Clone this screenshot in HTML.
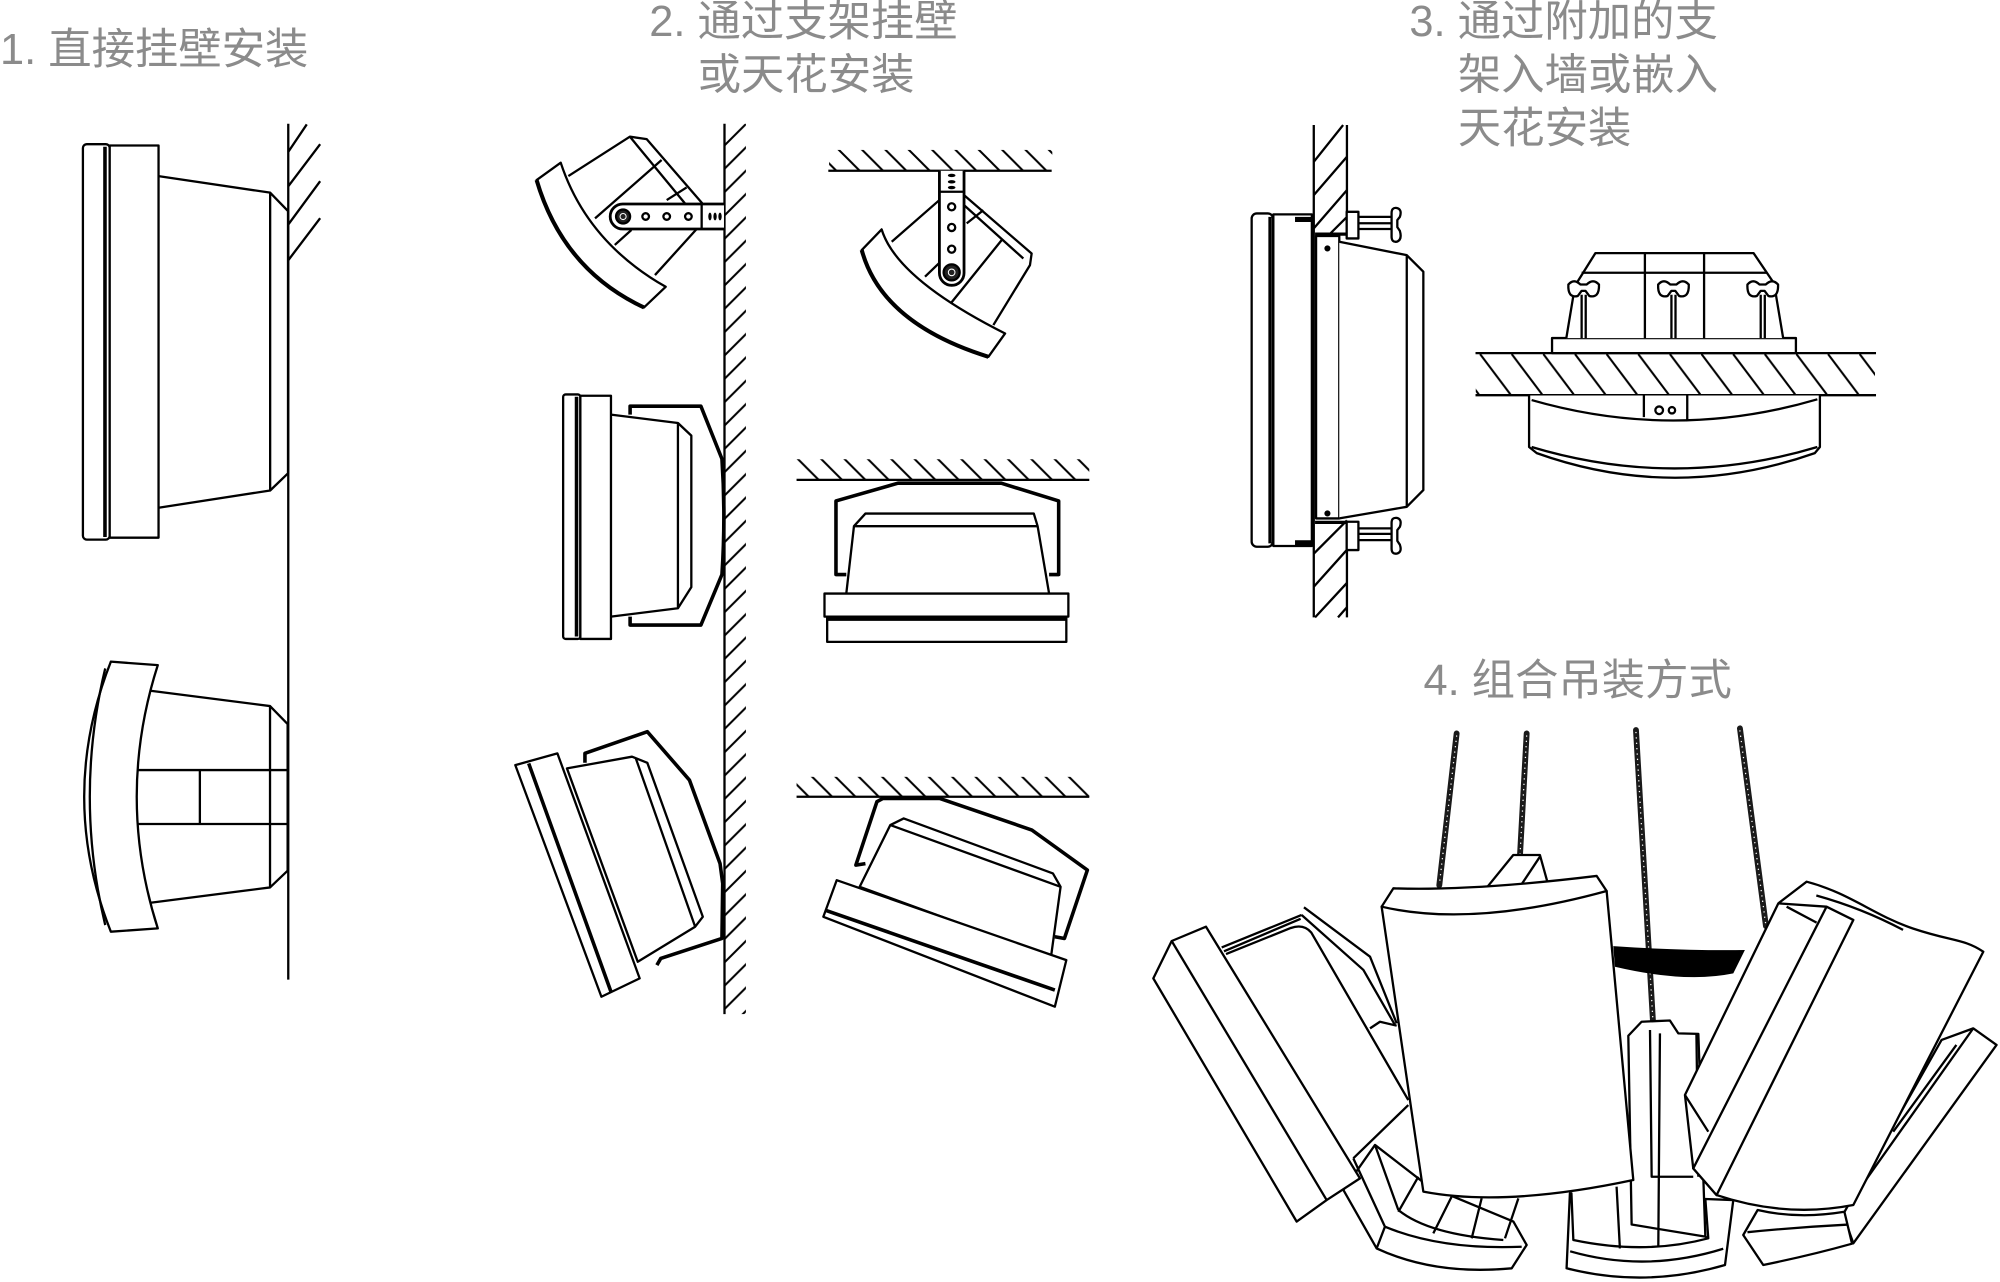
<!DOCTYPE html>
<html><head><meta charset="utf-8">
<style>
html,body{margin:0;padding:0;background:#fff;}
svg{display:block;}
text{font-family:"Liberation Sans","Noto Sans CJK SC",sans-serif;fill:#8b8b8b;font-size:34px;}
</style></head><body>
<svg width="2000" height="1282" viewBox="0 0 1568 1005" xmlns="http://www.w3.org/2000/svg">
<defs>
<pattern id="hw" patternUnits="userSpaceOnUse" x="568" y="114" width="18.3" height="18.3">
<path d="M-2,2 L2,-2 M0,18.3 L18.3,0 M16.3,20.3 L20.3,16.3" stroke="#000" stroke-width="1.6"/>
</pattern>
<pattern id="hc" patternUnits="userSpaceOnUse" x="650" y="0" width="18.3" height="18.3">
<path d="M-2,16.3 L2,20.3 M0,0 L18.3,18.3 M16.3,-2 L20.3,2" stroke="#000" stroke-width="1.6"/>
</pattern>
<pattern id="hs" patternUnits="userSpaceOnUse" x="1160" y="277" width="24.8" height="33">
<path d="M-1,-1.33 L25.8,34.33" stroke="#000" stroke-width="1.6"/>
</pattern>
</defs>

<!-- TEXT -->
<text x="0" y="50">1. 直接挂壁安装</text>
<text x="509" y="28">2. 通过支架挂壁</text>
<text x="547" y="70">或天花安装</text>
<text x="1105" y="28">3. 通过附加的支</text>
<text x="1143" y="70">架入墙或嵌入</text>
<text x="1143" y="112">天花安装</text>
<text x="1116" y="545">4. 组合吊装方式</text>

<g stroke="#000" fill="none" stroke-width="1.8" stroke-linejoin="round">

<!-- ===== SECTION 1 ===== -->
<line x1="226" y1="97" x2="226" y2="768"/>
<path d="M226,119 L240.5,97.5 M226,146 L251,113 M226,176 L251,142 M226,204 L251,171"/>
<!-- speaker 1a -->
<rect x="65" y="113" width="21" height="310" rx="3" fill="#fff"/>
<line x1="82.3" y1="115" x2="82.3" y2="421" stroke-width="2.8"/>
<rect x="86" y="114" width="38.3" height="307.5" fill="#fff"/>
<path d="M124.3,138 L211.8,151 L225.8,165.4 L225.8,371 L211.8,384.5 L124.3,398 M211.8,151 L211.8,384.5"/>
<!-- speaker 1b -->
<path d="M86.9,518.7 L123.7,521.4 Q90.7,624.6 123.7,727.8 L86.9,730.4 Q45.1,624.6 86.9,518.7 Z" fill="#fff"/>
<path d="M82.5,524 Q58.3,624.6 82.5,725.2"/>
<path d="M118,541.5 L211.7,553.5 L225.5,567.6 L225.5,682.6 L211.7,695.7 L118,707.7 M211.7,553.5 L211.7,695.7 M107.5,603.7 L225.5,603.7 M107.5,646 L225.5,646 M156.7,603.7 L156.7,646"/>

<!-- ===== SECTION 2 ===== -->
<line x1="568" y1="97" x2="568" y2="795"/>
<rect x="568.8" y="97" width="16" height="698" fill="url(#hw)" stroke="none"/>

<!-- speaker 2a -->
<path d="M445.6,138 L493.8,107.1 L507,109 L550.6,159.4 L546.2,179.5 L513.5,215.6 L470,200 Z" fill="#fff" stroke="none"/>
<path d="M445.6,138 L493.8,107.1 L507,109 L550.6,159.4 M493.8,107.1 L537,159.4 M466.5,171.2 L518.7,125.4 M482,192 L495,180.3 M522.7,156.8 L538.3,146.9 M546.2,179.5 L513.5,215.6"/>
<path d="M567.6,159.9 L488.2,159.9 A9.8,9.8 0 0 0 488.2,179.5 L567.6,179.5" fill="#fff" stroke-width="2.2"/>
<circle cx="488.5" cy="169.7" r="5.5" fill="#222"/>
<circle cx="488.5" cy="169.7" r="2.4" stroke="#fff" stroke-width="0.8"/>
<circle cx="506.2" cy="169.7" r="2.6"/>
<circle cx="522.7" cy="169.7" r="2.6"/>
<circle cx="539.7" cy="169.7" r="2.6"/>
<line x1="550.1" y1="160.5" x2="550.1" y2="179"/>
<ellipse cx="556.6" cy="169.7" rx="1.3" ry="3" fill="#000" stroke="none"/>
<ellipse cx="560.6" cy="169.7" rx="1.3" ry="3" fill="#000" stroke="none"/>
<ellipse cx="564.5" cy="169.7" rx="1.3" ry="3" fill="#000" stroke="none"/>
<path d="M420.7,141.1 L439.6,127.5 Q460,189.6 521.9,224.8 L504.9,241 Q441.4,211.4 420.7,141.1 Z" fill="#fff"/>
<path d="M420.7,141.1 Q441.4,211.4 504.9,241" stroke-width="3.2"/>

<!-- speaker 2b (ceiling bracket) -->
<line x1="649.4" y1="133.8" x2="824.5" y2="133.8"/>
<rect x="650" y="117.5" width="175" height="16" fill="url(#hc)" stroke="none"/>
<path d="M699.1,189.5 L736.5,156.8 L755.8,152.9 L808.8,198.7 L807.5,207.8 L778.8,254.8 L720,230 Z" fill="#fff" stroke="none"/>
<path d="M699.1,189.5 L736.5,156.8 M755.8,152.9 L808.8,198.7 L807.5,207.8 L778.8,254.8 M755.8,160.8 L802.3,202.6 M757.9,175.1 L771,164.7 M785.3,188.2 L745.3,237.9 M725.2,216.9 L736.5,206"/>
<path d="M736.5,133.8 L736.5,214 A9.65,9.65 0 0 0 755.8,214 L755.8,133.8" fill="#fff" stroke-width="2.2"/>
<circle cx="746.1" cy="213.5" r="6.3" fill="#222"/>
<circle cx="746.1" cy="213.5" r="2.6" stroke="#fff" stroke-width="0.8"/>
<circle cx="746.1" cy="162.1" r="2.8"/>
<circle cx="746.1" cy="178.3" r="2.8"/>
<circle cx="746.1" cy="195.3" r="2.8"/>
<ellipse cx="746.1" cy="137.5" rx="3" ry="1.3" fill="#000" stroke="none"/>
<ellipse cx="746.1" cy="142.5" rx="3" ry="1.3" fill="#000" stroke="none"/>
<ellipse cx="746.1" cy="147" rx="3" ry="1.3" fill="#000" stroke="none"/>
<line x1="737" y1="150.3" x2="755" y2="150.3"/>
<path d="M675.6,196 L691.2,179.8 Q703,218.6 788,261.4 L774.9,279.7 Q691.2,253.6 675.6,196 Z" fill="#fff"/>
<path d="M675.6,196 Q691.2,253.6 774.9,279.7" stroke-width="3.2"/>

<!-- speaker 2c -->
<rect x="441.5" y="309.2" width="13.5" height="191.7" rx="2" fill="#fff"/>
<line x1="452" y1="311" x2="452" y2="499" stroke-width="2.8"/>
<rect x="455" y="310.2" width="24" height="190.7" fill="#fff"/>
<path d="M479,325 L531.5,331.6 L542,341.5 L542,460.3 L531.5,476.8 L479,483.4 M531.5,331.6 L531.5,476.8"/>
<path d="M494,325 L494,318.4 L549.5,318.4 L566,359.7 Q569,405 566,450.4 L549.5,490 L494,490 L494,483.4" stroke-width="2.8"/>

<!-- speaker 2d -->
<line x1="624.5" y1="376.2" x2="854" y2="376.2"/>
<rect x="624.5" y="360" width="229.5" height="16" fill="url(#hc)" stroke="none"/>
<path d="M663.5,450.4 L655.4,450.4 L655.4,392.7 L704,378.8 L785,378.8 L830,392.7 L830,450.4 L822.5,450.4" stroke-width="2.8"/>
<path d="M663.5,465.3 L669.5,412.5 L678.5,402.6 L810.5,402.6 L813.5,412.5 L822.5,465.3 M669.5,412.5 L813.5,412.5" fill="#fff"/>
<rect x="646.4" y="465.3" width="191.2" height="18.1" fill="#fff"/>
<rect x="648.5" y="483.4" width="187.5" height="19.8" fill="#fff"/>
<line x1="648.5" y1="485.2" x2="836" y2="485.2" stroke-width="3"/>

<!-- speaker 2e -->
<path d="M444.5,602.4 L495.5,593.2 L507.5,598 L551,718.7 L545,726.5 L500,754 Z" fill="#fff"/>
<path d="M498.5,594.6 L545,726.5"/>
<path d="M458.6,598 L458.6,590.6 L507.5,573.6 L540.5,611.5 L564.5,676.9 L566.6,692.6 L566,735.7 L518,751.4 L515,756.6" stroke-width="2.8"/>
<path d="M404,599.8 L437,590.6 L501.5,767 L471.5,781.4 Z" fill="#fff"/>
<path d="M414.5,598.5 L479,777.5" stroke-width="2.8"/>

<!-- speaker 2f -->
<line x1="624.5" y1="624.6" x2="854" y2="624.6"/>
<rect x="624.5" y="609" width="229.5" height="15.6" fill="url(#hc)" stroke="none"/>
<path d="M678.5,677 L671,678.2 L687.5,628.5 L692,626 L737,626 L809,650.7 L852.5,682.1 L834.5,735.7 L827,734.4" stroke-width="2.8"/>
<path d="M674,695.2 L698,646.8 L708.5,641.6 L825.5,684.7 L831.5,695.2 L824,750 Z" fill="#fff"/>
<path d="M698,646.8 L831.5,695.2"/>
<path d="M656,690 L836,752.7 L827,789.2 L645.5,718.7 Z" fill="#fff"/>
<path d="M647,713.5 L827,776.2" stroke-width="2.8"/>

<!-- ===== SECTION 3 ===== -->
<line x1="1030" y1="98" x2="1030" y2="484"/>
<line x1="1056" y1="98" x2="1056" y2="184"/>
<line x1="1056" y1="408" x2="1056" y2="484"/>
<path d="M1030,126.8 L1053,98 M1030,152.9 L1056,122.8 M1030,179 L1056,149 M1042,184 L1056,170 M1030,434 L1056,408 M1030,460 L1056,431 M1031,484 L1056,457 M1049,484 L1056,476"/>
<path d="M1031,183.5 L1056,183.5 M1031,409.5 L1056,409.5" stroke-width="2.6"/>
<!-- speaker 3a -->
<rect x="981.3" y="167.3" width="16.7" height="261.3" rx="4" fill="#fff"/>
<line x1="995.7" y1="170" x2="995.7" y2="426" stroke-width="2.6"/>
<rect x="998.3" y="168" width="30.2" height="260" fill="#fff"/>
<rect x="1015.3" y="170" width="13.2" height="4" fill="#000" stroke="none"/>
<rect x="1015.3" y="423.5" width="13.2" height="4" fill="#000" stroke="none"/>
<rect x="1031.8" y="185" width="18.2" height="221.4" fill="#fff"/>
<path d="M1050,189.5 L1102.9,200 L1115.9,213 L1115.9,384.2 L1102.9,397.3 L1050,406.4 M1102.9,200 L1102.9,397.3" fill="#fff"/>
<circle cx="1040.7" cy="194.7" r="1.5" fill="#000"/>
<circle cx="1040.7" cy="402.5" r="1.5" fill="#000"/>
<!-- top bolt -->
<rect x="1055.8" y="166" width="9.2" height="20.9" fill="#fff"/>
<path d="M1065,170 L1091.5,170 M1065,175 L1091.5,175 M1065,179.5 L1091.5,179.5"/>
<path d="M1091,167 Q1091,162.5 1095,163 Q1099.5,164 1097.5,170 L1095.5,172.5 L1095.5,178 L1097.5,181 Q1099.5,188 1095,189.5 Q1091,190 1091,185.5 Z" fill="#fff"/>
<!-- bottom bolt -->
<rect x="1055.8" y="409" width="9.2" height="22.2" fill="#fff"/>
<path d="M1065,414.2 L1091.5,414.2 M1065,418.5 L1091.5,418.5 M1065,423.4 L1091.5,423.4"/>
<path d="M1091,410 Q1091,405.5 1095,406 Q1099.5,407 1097.5,413 L1095.5,415.5 L1095.5,424 L1097.5,427 Q1099.5,433 1095,434 Q1091,434.5 1091,430 Z" fill="#fff"/>

<!-- speaker 3b -->
<line x1="1156.8" y1="276.8" x2="1470.8" y2="276.8"/>
<line x1="1156.8" y1="309.8" x2="1470.8" y2="309.8"/>
<rect x="1157" y="277" width="313" height="32.8" fill="url(#hs)" stroke="none"/>
<rect x="1216.8" y="265" width="191.2" height="11.8" fill="#fff"/>
<path d="M1228,265 L1234.8,224 L1250.8,198.4 L1374.8,198.4 L1390.8,222 L1398,265" fill="#fff"/>
<path d="M1289.6,198.4 L1289.6,265 M1336,198.4 L1336,265 M1240,213.8 L1385,213.8"/>
<g fill="#fff">
<path d="M1229.6,223 Q1229,234 1237,232 L1240,228 L1243,228 L1246,232 Q1254,234 1253.6,223 Q1249,218 1244,223 L1239,223 Q1234,218 1229.6,223 Z"/>
<path d="M1300,223 Q1299.4,234 1307.4,232 L1310.4,228 L1313.4,228 L1316.4,232 Q1324.4,234 1324,223 Q1319.4,218 1314.4,223 L1309.4,223 Q1304.4,218 1300,223 Z"/>
<path d="M1370,223 Q1369.4,234 1377.4,232 L1380.4,228 L1383.4,228 L1386.4,232 Q1394.4,234 1394,223 Q1389.4,218 1384.4,223 L1379.4,223 Q1374.4,218 1370,223 Z"/>
</g>
<path d="M1240,231 L1240,265 M1243.2,231 L1243.2,265 M1310.4,231 L1310.4,265 M1313.6,231 L1313.6,265 M1380.4,231 L1380.4,265 M1383.6,231 L1383.6,265"/>
<path d="M1198.8,310 L1198.8,350.4 L1204.8,355.2 Q1312.8,393.8 1422.8,355.2 L1426.8,350.4 L1426.8,310" fill="#fff"/>
<path d="M1200.8,350.4 Q1312.8,384 1424.8,350.4"/>
<path d="M1200.8,313.6 Q1312.8,345.9 1424.8,313"/>
<circle cx="1300.8" cy="321.6" r="3"/>
<circle cx="1310.8" cy="321.6" r="2.5"/>
<path d="M1288.8,310 L1288.8,327 M1322.8,310 L1322.8,329"/>

<!-- ===== SECTION 4 ===== -->
<!-- chains -->
<g stroke="#1a1a1a" stroke-width="4.6" stroke-linecap="round">
<line x1="1142" y1="575" x2="1128.4" y2="694"/>
<line x1="1196.9" y1="575" x2="1191.7" y2="670"/>
<line x1="1282.6" y1="572.3" x2="1296" y2="802"/>
<line x1="1364.1" y1="571" x2="1384.5" y2="726"/>
</g>
<g stroke="#fff" stroke-width="1.1" stroke-linecap="round" stroke-dasharray="0.01 4.2">
<line x1="1142" y1="577" x2="1128.4" y2="694"/>
<line x1="1196.9" y1="577" x2="1191.7" y2="670"/>
<line x1="1282.6" y1="574.3" x2="1296" y2="802"/>
<line x1="1364.1" y1="573" x2="1384.5" y2="726"/>
</g>

<!-- far right back speaker -->
<path d="M1522.2,815.3 L1547,806.2 L1565.3,819.2 L1453,974.7 L1445,952 Z" fill="#fff"/>
<path d="M1547,806.2 L1458.2,931.6 M1533.8,819.2 L1484.3,887.2"/>
<!-- right bottom tray -->
<path d="M1378,948.6 L1366.7,968.2 L1382.4,991.7 Q1420,984 1452,975 L1446,950 Q1410,956 1378,948.6 Z" fill="#fff"/>
<path d="M1370,966 Q1410,962 1449,960"/>

<!-- center back speaker -->
<path d="M1276.6,812 L1287,801 L1309.2,800 L1315.8,810.1 L1331.5,810.5 L1337,969.5 L1279.2,960 Z" fill="#fff"/>
<path d="M1293.6,807.5 L1294.9,922.5 L1327.5,922.5 M1301.4,810.1 L1300.1,978.7 M1330,811 L1331.5,922.5"/>
<!-- center bottom tray -->
<path d="M1230.8,935.5 L1228.2,994.3 Q1290,1010 1352.4,991.7 L1358.9,940.8 L1337,940 L1339.3,970.8 Q1290,984 1233.5,972.1 L1232,935.5 Z" fill="#fff"/>
<path d="M1231,981 Q1290,998 1351,979 M1267.4,930.3 L1270,978.7 M1337,969.5 L1339.3,970.8"/>

<!-- tab -->
<path d="M1165.5,696 L1186.4,670.3 L1207.3,670.3 L1213.9,694 Z" fill="#fff"/>
<path d="M1191.1,696 L1207.3,671.6"/>

<!-- bottom-left tray -->
<path d="M1053.2,932.9 L1079.3,978.7 Q1125,1000 1185.2,994.3 L1196.9,976 L1186.5,957.7 L1120,930 L1078,897.6 Z" fill="#fff"/>
<path d="M1085.8,961.7 L1079.3,978.7 M1085.8,961.7 Q1130,980 1193,977.4 M1096.3,948.6 Q1120,968 1178.6,972.1 M1123.7,966.9 L1138.1,938.1 M1153.8,970.8 L1161.6,939.5 M1179.9,970.8 L1190.4,939.5 M1061,908.1 L1085.8,961.7 M1078,897.6 L1096.3,948.6 M1112,922.5 L1096.3,950"/>

<!-- left speaker body -->
<path d="M952,737 L1022.3,711.3 L1074.1,750 L1095,802.2 L1110,870 L1061,908.1 Z" fill="#fff" stroke="none"/>
<path d="M957.8,742.7 L1020.5,717.3 M959.6,745.8 L1019.7,720.3 M1020.5,717.3 L1068.9,760.4 L1093.7,803.6 M1022.3,711.3 L1074.1,750 L1095,802.2 M961.2,747.9 L1012,727.5 Q1022,724 1028,731 L1104.1,862.4 M1061,908.1 L1104.1,866.3 M1074.1,806.2 L1081.9,801 L1095,804.1"/>
<path d="M904.2,767 L918.6,737.7 L945.5,726.5 L1066.2,923.8 L1040.1,940.8 L1016.6,957.7 Z" fill="#fff"/>
<path d="M918.6,737.7 L1040.1,940.8"/>

<!-- black band -->
<path d="M1264.8,741.7 Q1317.8,745.4 1368,744.8 L1358.9,763.1 Q1321.5,770.9 1266.1,757.9 Z" fill="#000" stroke="none"/>

<!-- center speaker -->
<path d="M1083.2,710.8 L1115.9,934.2 Q1179.8,946.5 1280.5,925.1 L1259.6,698.5 Z" fill="#fff"/>
<path d="M1083.2,710.8 L1092.4,696.4 Q1153.9,698.6 1251.8,686.7 L1259.6,698.5 Q1154.6,727.4 1083.2,710.8 Z" fill="#fff"/>

<!-- right speaker -->
<path d="M1416.4,691.2 C1450,700 1470,718 1500,728 S1540,736 1554.9,746.1 L1453,944.7 Q1400,955 1345.8,936.9 L1327.5,916 L1321,858.4 L1394.2,708.2 Z" fill="#fff"/>
<path d="M1424,702 Q1460,712 1492,729 M1394.2,708.2 L1432,710.8 M1400.7,710.8 L1424.2,723.3 M1321,858.4 L1339.3,887.2"/>
<path d="M1327.5,916 L1432,710.8 L1453,721.2 L1345.8,936.9 Z" fill="#fff"/>
</g>
</svg>
</body></html>
